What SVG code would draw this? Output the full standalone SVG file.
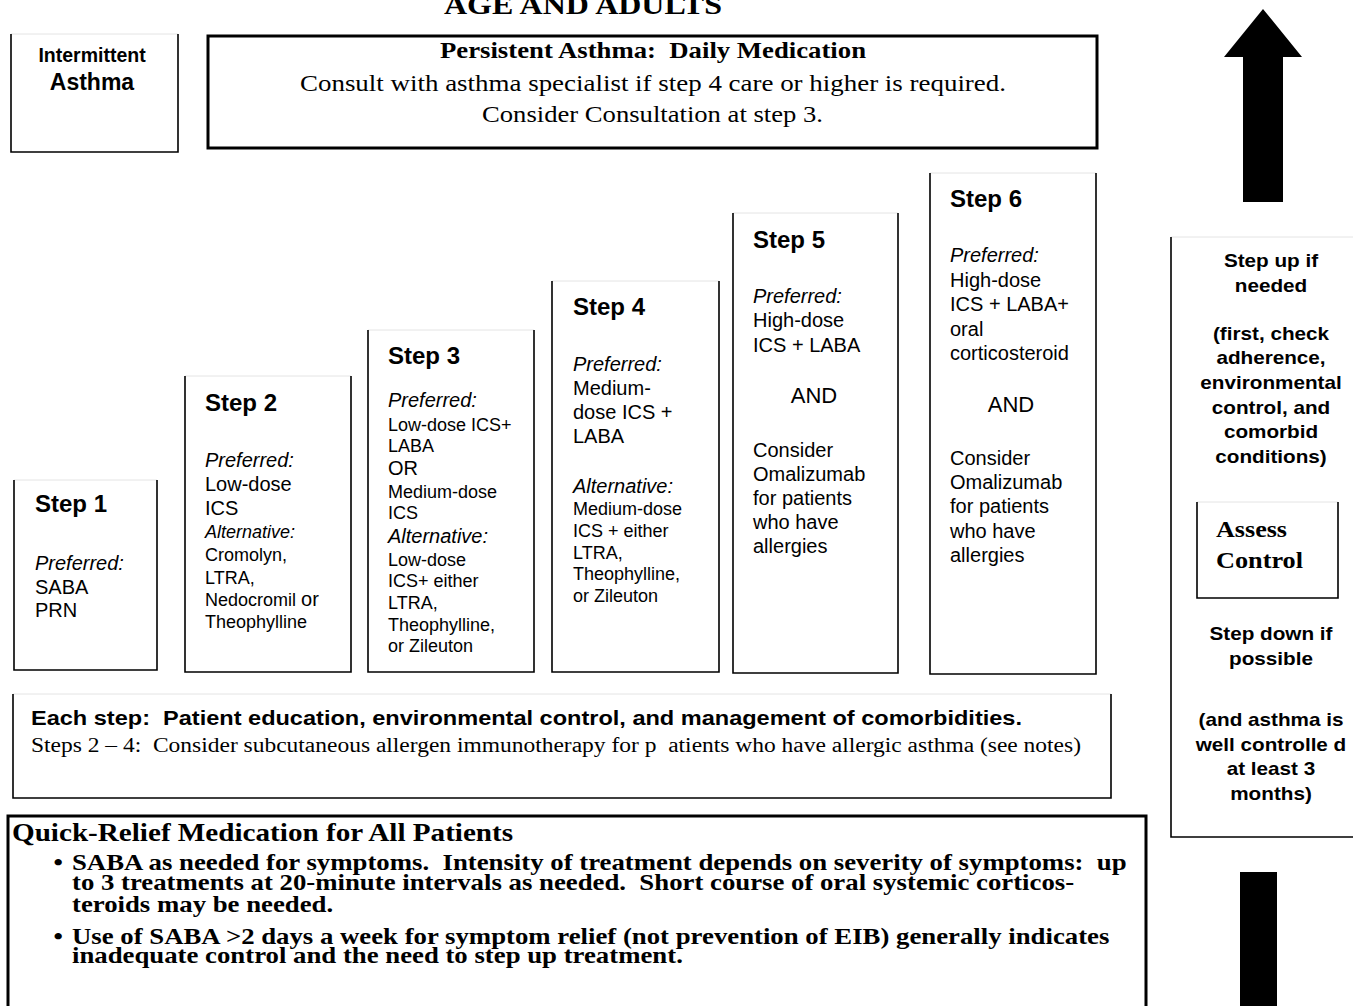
<svg xmlns="http://www.w3.org/2000/svg" width="1353" height="1006" viewBox="0 0 1353 1006">
<style>
text{white-space:pre;fill:#000}
.sans{font-family:"Liberation Sans",Arial,sans-serif}
.serif{font-family:"Liberation Serif","Times New Roman",serif}
.b{font-weight:bold}
.i{font-style:italic}
.edge{fill:none;stroke:#000;stroke-width:1.6}
.thick{fill:none;stroke:#000;stroke-width:3}
.faint{fill:none;stroke:#e4e4e4;stroke-width:1}
.lbl{font-size:24px;font-weight:bold}
.body{font-size:20px}
.alt{font-size:18px}
.rc{font-size:18px;font-weight:bold;text-anchor:middle}
.qr{font-size:22.5px;font-weight:bold}
</style>
<rect width="1353" height="1006" fill="#fff"/>

<text class="serif b" x="444" y="14" font-size="28" textLength="278" lengthAdjust="spacingAndGlyphs">AGE AND ADULTS</text>

<g id="intermittent">
<path class="faint" d="M11 34H178"/>
<path class="edge" d="M11 34V152H178V34"/>
<text class="sans b" x="92" y="62" font-size="19.5" text-anchor="middle">Intermittent</text>
<text class="sans b" x="92" y="90" font-size="23" text-anchor="middle">Asthma</text>
</g>

<g id="persistent">
<rect class="thick" x="208" y="36" width="889" height="112"/>
<text class="serif b" x="440" y="58" font-size="24" textLength="426" lengthAdjust="spacingAndGlyphs">Persistent Asthma:  Daily Medication</text>
<text class="serif" x="300" y="91" font-size="24" textLength="706" lengthAdjust="spacingAndGlyphs">Consult with asthma specialist if step 4 care or higher is required.</text>
<text class="serif" x="482" y="122" font-size="24" textLength="341" lengthAdjust="spacingAndGlyphs">Consider Consultation at step 3.</text>
</g>

<g id="step1">
<path class="faint" d="M14 480H157"/>
<path class="edge" d="M14 480V670H157V480"/>
<text class="sans lbl" x="35" y="512">Step 1</text>
<text class="sans body i" x="35" y="570">Preferred:</text>
<text class="sans body" x="35" y="594">SABA</text>
<text class="sans body" x="35" y="617">PRN</text>
</g>

<g id="step2">
<path class="faint" d="M185 376H351"/>
<path class="edge" d="M185 376V672H351V376"/>
<text class="sans lbl" x="205" y="411">Step 2</text>
<text class="sans body i" x="205" y="467">Preferred:</text>
<text class="sans body" x="205" y="491">Low-dose</text>
<text class="sans body" x="205" y="515">ICS</text>
<text class="sans alt i" x="205" y="538">Alternative:</text>
<text class="sans alt" x="205" y="561">Cromolyn,</text>
<text class="sans alt" x="205" y="584">LTRA,</text>
<text class="sans alt" x="205" y="606">Nedocromil <tspan font-size="20">or</tspan></text>
<text class="sans alt" x="205" y="628">Theophylline</text>
</g>

<g id="step3">
<path class="faint" d="M368 330H534"/>
<path class="edge" d="M368 330V672H534V330"/>
<text class="sans lbl" x="388" y="364">Step 3</text>
<text class="sans body i" x="388" y="407">Preferred:</text>
<text class="sans alt" x="388" y="431">Low-dose ICS+</text>
<text class="sans alt" x="388" y="452">LABA</text>
<text class="sans body" x="388" y="475">OR</text>
<text class="sans alt" x="388" y="498">Medium-dose</text>
<text class="sans alt" x="388" y="519">ICS</text>
<text class="sans body i" x="388" y="543">Alternative:</text>
<text class="sans alt" x="388" y="566">Low-dose</text>
<text class="sans alt" x="388" y="587">ICS+ either</text>
<text class="sans alt" x="388" y="609">LTRA,</text>
<text class="sans alt" x="388" y="631">Theophylline,</text>
<text class="sans alt" x="388" y="652">or Zileuton</text>
</g>

<g id="step4">
<path class="faint" d="M552 281H719"/>
<path class="edge" d="M552 281V672H719V281"/>
<text class="sans lbl" x="573" y="315">Step 4</text>
<text class="sans body i" x="573" y="371">Preferred:</text>
<text class="sans body" x="573" y="395">Medium-</text>
<text class="sans body" x="573" y="419">dose ICS +</text>
<text class="sans body" x="573" y="443">LABA</text>
<text class="sans body i" x="573" y="493">Alternative:</text>
<text class="sans alt" x="573" y="515">Medium-dose</text>
<text class="sans alt" x="573" y="537">ICS + either</text>
<text class="sans alt" x="573" y="559">LTRA,</text>
<text class="sans alt" x="573" y="580">Theophylline,</text>
<text class="sans alt" x="573" y="602">or Zileuton</text>
</g>

<g id="step5">
<path class="faint" d="M733 213H898"/>
<path class="edge" d="M733 213V673H898V213"/>
<text class="sans lbl" x="753" y="248">Step 5</text>
<text class="sans body i" x="753" y="303">Preferred:</text>
<text class="sans body" x="753" y="327">High-dose</text>
<text class="sans body" x="753" y="352">ICS + LABA</text>
<text class="sans" x="814" y="403" font-size="22" text-anchor="middle">AND</text>
<text class="sans body" x="753" y="457">Consider</text>
<text class="sans body" x="753" y="481">Omalizumab</text>
<text class="sans body" x="753" y="505">for patients</text>
<text class="sans body" x="753" y="529">who have</text>
<text class="sans body" x="753" y="553">allergies</text>
</g>

<g id="step6">
<path class="faint" d="M930 173H1096"/>
<path class="edge" d="M930 173V674H1096V173"/>
<text class="sans lbl" x="950" y="207">Step 6</text>
<text class="sans body i" x="950" y="262">Preferred:</text>
<text class="sans body" x="950" y="287">High-dose</text>
<text class="sans body" x="950" y="311">ICS + LABA+</text>
<text class="sans body" x="950" y="336">oral</text>
<text class="sans body" x="950" y="360">corticosteroid</text>
<text class="sans" x="1011" y="412" font-size="22" text-anchor="middle">AND</text>
<text class="sans body" x="950" y="465">Consider</text>
<text class="sans body" x="950" y="489">Omalizumab</text>
<text class="sans body" x="950" y="513">for patients</text>
<text class="sans body" x="950" y="538">who have</text>
<text class="sans body" x="950" y="562">allergies</text>
</g>

<g id="each-step">
<path class="faint" d="M13 694H1111"/>
<path class="edge" d="M13 694V798H1111V694"/>
<text class="sans b" x="31" y="725" font-size="20" textLength="991" lengthAdjust="spacingAndGlyphs">Each step:  Patient education, environmental control, and management of comorbidities.</text>
<text class="serif" x="31" y="752" font-size="20" textLength="1050" lengthAdjust="spacingAndGlyphs">Steps 2 – 4:  Consider subcutaneous allergen immunotherapy for p  atients who have allergic asthma (see notes)</text>
</g>

<g id="quick-relief">
<path class="thick" d="M8 1010V816H1146V1010"/>
<g transform="scale(1.19 1)">
<text class="serif b" x="10.1" y="841" font-size="24.5">Quick-Relief Medication for All Patients</text>
<text class="serif qr" x="45" y="870">•</text>
<text class="serif qr" x="60.5" y="870">SABA as needed for symptoms.  Intensity of treatment depends on severity of symptoms:  up</text>
<text class="serif qr" x="60.5" y="890">to 3 treatments at 20-minute intervals as needed.  Short course of oral systemic corticos-</text>
<text class="serif qr" x="60.5" y="912">teroids may be needed.</text>
<text class="serif qr" x="45" y="944">•</text>
<text class="serif qr" x="60.5" y="944">Use of SABA &gt;2 days a week for symptom relief (not prevention of EIB) generally indicates</text>
<text class="serif qr" x="60.5" y="963">inadequate control and the need to step up treatment.</text>
</g>
</g>

<g id="assess-column">
<path class="faint" d="M1171 237H1353"/>
<path class="edge" d="M1171 237V837H1353"/>
<g transform="translate(1271 0) scale(1.15 1)">
<text class="sans rc" x="0" y="267">Step up if</text>
<text class="sans rc" x="0" y="292">needed</text>
<text class="sans rc" x="0" y="340">(first, check</text>
<text class="sans rc" x="0" y="364">adherence,</text>
<text class="sans rc" x="0" y="389">environmental</text>
<text class="sans rc" x="0" y="414">control, and</text>
<text class="sans rc" x="0" y="438">comorbid</text>
<text class="sans rc" x="0" y="463">conditions)</text>
<text class="sans rc" x="0" y="640">Step down if</text>
<text class="sans rc" x="0" y="665">possible</text>
<text class="sans rc" x="0" y="726">(and asthma is</text>
<text class="sans rc" x="0" y="751">well controlle d</text>
<text class="sans rc" x="0" y="775">at least 3</text>
<text class="sans rc" x="0" y="800">months)</text>
</g>
</g>

<g id="assess-control">
<path class="faint" d="M1197 502H1338"/>
<path class="edge" d="M1197 502V598H1338V502"/>
<text class="serif b" x="1216" y="537" font-size="24" textLength="71" lengthAdjust="spacingAndGlyphs">Assess</text>
<text class="serif b" x="1216" y="568" font-size="24" textLength="87" lengthAdjust="spacingAndGlyphs">Control</text>
</g>

<g id="connectors">
<polygon points="1263,9 1302,57 1283,57 1283,202 1243,202 1243,57 1224,57" fill="#000"/>
<rect x="1240" y="872" width="37" height="140" fill="#000"/>
</g>
</svg>
